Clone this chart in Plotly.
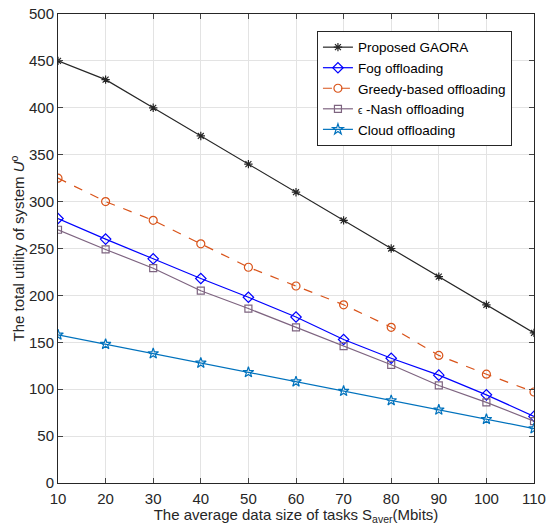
import plotly.graph_objects as go

x_vals = [10, 20, 30, 40, 50, 60, 70, 80, 90, 100, 110]
gaora = [450, 430, 400, 370, 340, 310, 280, 250, 220, 190, 160]
fog = [282, 260, 239, 218, 198, 177, 153, 133, 115, 94, 71]
greedy = [325, 300, 280, 255, 230, 210, 190, 166, 136, 116, 97]
nash = [270, 249, 229, 205, 186, 166, 146, 126, 104, 86, 66]
cloud = [158, 148, 138, 128, 118, 108, 98, 88, 78, 68, 58]

x_ticks = [10, 20, 30, 40, 50, 60, 70, 80, 90, 100, 110]
y_ticks = [0, 50, 100, 150, 200, 250, 300, 350, 400, 450, 500]

series = [
    ("Proposed GAORA", gaora, "#262626", "solid", "asterisk-open", 7),
    ("Fog offloading", fog, "#0000FF", "solid", "diamond-open", 8),
    ("Greedy-based offloading", greedy, "#D95319", "dash", "circle-open", 8),
    ("<span style='font-size:10px'>ϵ</span> -Nash offloading", nash, "#7E6480", "solid", "square-open", 7),
    ("Cloud offloading", cloud, "#0072BD", "solid", "star-open", 8),
]

fig = go.Figure()
for name, ys, color, dash, sym, size in series:
    fig.add_trace(go.Scatter(
        x=x_vals, y=ys, name=name, mode="lines+markers",
        line=dict(color=color, width=1.2, dash=dash),
        marker=dict(symbol=sym, size=size, color=color, line=dict(color=color, width=1.2)),
    ))

font_family = "Liberation Sans, Arial, Helvetica, sans-serif"
fig.update_layout(
    width=547, height=525,
    margin=dict(l=58, r=13, t=14, b=42),
    paper_bgcolor="white", plot_bgcolor="white",
    font=dict(family=font_family, size=15, color="#262626"),
    showlegend=True,
    legend=dict(
        x=0.544, y=0.964, xanchor="left", yanchor="top",
        bgcolor="white", bordercolor="#262626", borderwidth=1,
        font=dict(size=13.5, color="#000000"),
        tracegroupgap=0, itemwidth=30,
    ),
    xaxis=dict(
        range=[10, 110], tickvals=x_ticks, ticks="inside", ticklen=5,
        showgrid=True, gridcolor="#E3E3E3", gridwidth=1,
        showline=True, linecolor="#262626", linewidth=1, mirror="ticks",
        zeroline=False, automargin=False, tickfont=dict(size=15),
        ticklabelstandoff=2,
        title=dict(text="The average data size of tasks S<sub>aver</sub>(Mbits)", standoff=5,
                   font=dict(size=15)),
    ),
    yaxis=dict(
        range=[0, 500], tickvals=y_ticks, ticks="inside", ticklen=5,
        showgrid=True, gridcolor="#E3E3E3", gridwidth=1,
        showline=True, linecolor="#262626", linewidth=1, mirror="ticks",
        zeroline=False, automargin=False, tickfont=dict(size=15),
        title=dict(text="The total utility of system <i>U</i><sup>o</sup>", standoff=0,
                   font=dict(size=15)),
    ),
)

fig.write_html(
    "out.html",
    config={"displayModeBar": False},
    post_script="document.body.style.margin='0';document.body.style.overflow='hidden';",
)
